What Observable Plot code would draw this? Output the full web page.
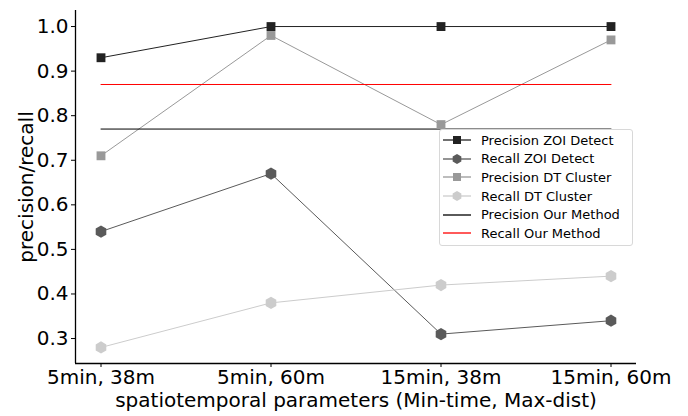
<!DOCTYPE html>
<html>
<head>
<meta charset="utf-8">
<script src="https://cdn.jsdelivr.net/npm/d3@7"></script>
<script src="https://cdn.jsdelivr.net/npm/@observablehq/plot@0.6"></script>
<style>
  body { margin: 0; background: #fff; font-family: "DejaVu Sans", sans-serif; }
  #wrap { position: relative; width: 688px; height: 416px; }
  #legend { position: absolute; left: 439px; top: 129px; width: 194px; height: 117px;
    border: 1px solid #d8d8d8; border-radius: 3px; background: rgba(255,255,255,0.85);
    box-sizing: border-box; padding: 1px 0 0 3px; font-size: 13px; color: #000; }
  .row { display: flex; align-items: center; height: 18.6px; }
  .row svg { margin-right: 10px; }
</style>
</head>
<body>
<div id="wrap"><div id="legend"></div></div>
<script>
const categories = ["5min, 38m", "5min, 60m", "15min, 38m", "15min, 60m"];
const precisionZOI = [0.93, 1.0, 1.0, 1.0];
const recallZOI = [0.54, 0.67, 0.31, 0.34];
const precisionDT = [0.71, 0.98, 0.78, 0.97];
const recallDT = [0.28, 0.38, 0.42, 0.44];
const precisionOurs = 0.77;
const recallOurs = 0.87;
const yTicks = [0.3, 0.4, 0.5, 0.6, 0.7, 0.8, 0.9, 1.0];

const series = [
  {name: "Precision ZOI Detect", values: precisionZOI, color: "#222222", symbol: "square"},
  {name: "Recall ZOI Detect", values: recallZOI, color: "#5a5a5a", symbol: "hexagon"},
  {name: "Precision DT Cluster", values: precisionDT, color: "#999999", symbol: "square"},
  {name: "Recall DT Cluster", values: recallDT, color: "#cccccc", symbol: "hexagon"}
];
const flat = [
  {name: "Precision Our Method", value: precisionOurs, color: "#000000"},
  {name: "Recall Our Method", value: recallOurs, color: "#ff0000"}
];

const rows = series.flatMap(s => s.values.map((v, i) => ({name: s.name, i, v, color: s.color, symbol: s.symbol})));
const flatRows = flat.flatMap(f => [0, categories.length - 1].map(i => ({name: f.name, i, v: f.value, color: f.color})));

const marks = [];
for (const s of series) {
  const d = rows.filter(r => r.name === s.name);
  marks.push(Plot.line(d, {x: "i", y: "v", stroke: s.color, strokeWidth: 1}));
}
for (const f of flat) {
  marks.push(Plot.line(flatRows.filter(r => r.name === f.name), {x: "i", y: "v", stroke: f.color, strokeWidth: 1}));
}
for (const s of series) {
  const d = rows.filter(r => r.name === s.name);
  marks.push(Plot.dot(d, {x: "i", y: "v", fill: s.color, stroke: "none", symbol: () => s.symbol, r: s.symbol === "square" ? 5 : 5.3}));
}

const chart = Plot.plot({
  width: 688, height: 416,
  marginLeft: 75, marginRight: 52, marginTop: 10, marginBottom: 53,
  style: {fontFamily: "DejaVu Sans, sans-serif", fontSize: "20px", color: "#000", background: "#fff"},
  x: {type: "linear", domain: [-0.15, 3.15]},
  y: {domain: [0.244, 1.036]},
  marks: [
    ...marks,
    Plot.axisX([0, 1, 2, 3], {tickFormat: i => categories[i], tickSize: 4, tickPadding: 2, fontSize: 20,
      label: "spatiotemporal parameters (Min-time, Max-dist)", labelAnchor: "center", labelOffset: 43, labelArrow: "none"}),
    Plot.axisY(yTicks, {tickFormat: d => d.toFixed(1), tickSize: 4, tickPadding: 3, fontSize: 20,
      label: "precision/recall", labelAnchor: "center", labelOffset: 57, labelArrow: "none"}),
    Plot.ruleX([-0.15], {stroke: "#000", strokeWidth: 1.3}),
    Plot.ruleY([0.244], {stroke: "#000", strokeWidth: 1.3})
  ]
});
document.getElementById("wrap").prepend(chart);

function hexPath(r) {
  const pts = d3.range(6).map(k => {
    const a = Math.PI / 2 + k * Math.PI / 3;
    return [r * Math.cos(a), r * Math.sin(a)];
  });
  return "M" + pts.map(p => p.join(",")).join("L") + "Z";
}

const legend = document.getElementById("legend");
const items = [...series, ...flat.map(f => ({...f, symbol: null}))];
for (const it of items) {
  const row = document.createElement("div");
  row.className = "row";
  const ns = "http://www.w3.org/2000/svg";
  const svg = document.createElementNS(ns, "svg");
  svg.setAttribute("width", 28); svg.setAttribute("height", 12);
  const ln = document.createElementNS(ns, "line");
  ln.setAttribute("x1", 0); ln.setAttribute("x2", 28); ln.setAttribute("y1", 6); ln.setAttribute("y2", 6);
  ln.setAttribute("stroke", it.color); ln.setAttribute("stroke-width", 1.3);
  svg.appendChild(ln);
  if (it.symbol) {
    const p = document.createElementNS(ns, "path");
    p.setAttribute("d", it.symbol === "square" ? d3.symbol(d3.symbolSquare, 64)() : hexPath(5));
    p.setAttribute("transform", "translate(14,6)");
    p.setAttribute("fill", it.color);
    svg.appendChild(p);
  }
  row.appendChild(svg);
  const t = document.createElement("span");
  t.textContent = it.name;
  row.appendChild(t);
  legend.appendChild(row);
}
</script>
</body>
</html>
